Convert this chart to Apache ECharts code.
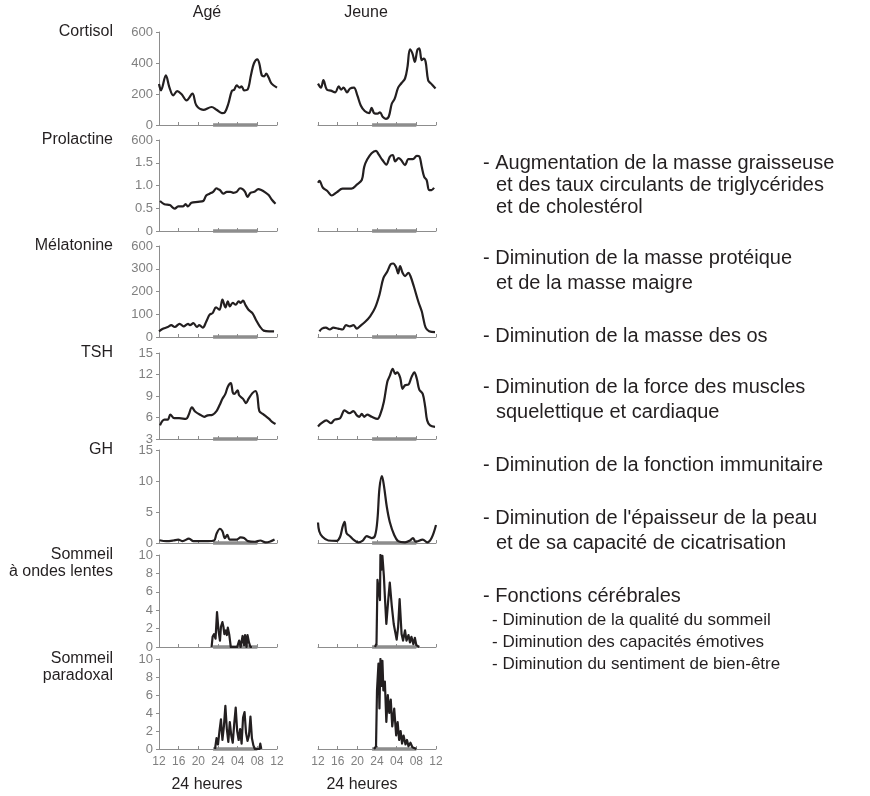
<!DOCTYPE html>
<html><head><meta charset="utf-8">
<script src="https://cdn.jsdelivr.net/npm/echarts@6.0.0/dist/echarts.min.js"></script>
<style>html,body{margin:0;padding:0;background:#fff}#c{width:870px;height:796px}</style>
</head><body><div id="c"></div>
<script>
// ---------- DATA ----------
const columns = ['Agé', 'Jeune'];
const rowLabels = [['Cortisol'], ['Prolactine'], ['Mélatonine'], ['TSH'], ['GH'], ['Sommeil', 'à ondes lentes'], ['Sommeil', 'paradoxal']];
const xTickLabels = ['12', '16', '20', '24', '04', '08', '12'];
const sleepPeriod = [11, 20]; // hours after 12:00 (23h -> 08h)

const cortisolTicks = ['0', '200', '400', '600'];
const prolactineTicks = ['0', '0.5', '1.0', '1.5', '600'];
const melatonineTicks = ['0', '100', '200', '300', '600'];
const tshTicks = ['3', '6', '9', '12', '15'];
const ghTicks = ['0', '5', '10', '15'];
const sleepTicks = ['0', '2', '4', '6', '8', '10'];

// Cortisol
const cortAgeT = [0, 0.4, 1.4, 2.1, 2.9, 3.7, 4.6, 5.6, 6.8, 7.6, 9.0, 10.7, 11.7, 12.8, 13.4, 14.1, 14.8, 15.3, 15.8, 16.4, 16.8, 17.3, 18.0, 18.7, 19.3, 20.0, 20.4, 20.9, 21.4, 21.8, 22.3, 22.9, 24];
const cortAgeV = [265, 224, 321, 245, 191, 219, 198, 159, 202, 126, 98, 116, 98, 77, 82, 137, 219, 228, 256, 241, 250, 224, 228, 321, 397, 423, 397, 321, 314, 331, 306, 267, 241];
const cortJeuneT = [0, 0.6, 1.1, 1.8, 2.6, 3.5, 4.2, 4.7, 5.2, 5.9, 6.5, 7.3, 8.0, 8.7, 9.5, 10.4, 10.9, 11.4, 12.1, 12.6, 13.2, 13.8, 14.4, 15.0, 15.6, 16.3, 17.0, 17.7, 18.2, 18.7, 19.2, 19.7, 20.2, 20.6, 21.1, 21.5, 21.9, 22.4, 23.0, 23.9];
const cortJeuneV = [267, 241, 289, 228, 222, 211, 250, 228, 241, 211, 235, 241, 191, 126, 90, 77, 111, 77, 73, 82, 51, 40, 55, 137, 170, 241, 271, 300, 375, 488, 462, 407, 483, 494, 418, 429, 407, 289, 267, 235];

// Prolactine
const prolAgeT = [0.2, 1.1, 2.2, 3.2, 3.9, 4.9, 5.4, 5.9, 6.6, 7.9, 9.0, 9.6, 10.3, 11.0, 11.7, 12.0, 12.4, 13.1, 13.8, 14.5, 15.1, 15.8, 16.5, 17.0, 17.5, 18.0, 18.6, 19.4, 20.2, 20.8, 21.6, 22.3, 23.0, 23.7];
const prolAgeV = [0.66, 0.59, 0.57, 0.49, 0.54, 0.54, 0.59, 0.54, 0.62, 0.64, 0.66, 0.78, 0.82, 0.86, 0.94, 0.92, 0.90, 0.82, 0.86, 0.86, 0.84, 0.86, 0.94, 0.92, 0.86, 0.75, 0.84, 0.86, 0.92, 0.90, 0.85, 0.79, 0.68, 0.60];
const prolJeuneT = [0, 0.3, 1.0, 1.9, 2.8, 3.8, 5.0, 6.8, 7.9, 8.9, 9.4, 10.0, 10.9, 11.8, 12.3, 13.1, 13.9, 14.6, 15.2, 15.7, 16.4, 16.9, 17.7, 18.4, 19.3, 20.1, 20.6, 21.1, 21.6, 22.1, 22.6, 23.1, 23.6];
const prolJeuneV = [1.06, 1.10, 0.95, 0.88, 0.78, 0.85, 0.93, 0.93, 1.02, 1.12, 1.41, 1.57, 1.71, 1.76, 1.69, 1.56, 1.46, 1.63, 1.67, 1.53, 1.60, 1.56, 1.45, 1.58, 1.58, 1.65, 1.64, 1.41, 1.19, 1.12, 0.90, 0.90, 0.95];

// Mélatonine
const melAgeT = [0, 0.9, 1.8, 2.5, 3.2, 4.2, 5.0, 5.9, 6.3, 7.0, 7.7, 8.2, 8.9, 9.6, 10.3, 10.9, 11.6, 12.3, 12.9, 13.5, 14.0, 14.4, 15.0, 15.6, 16.2, 16.6, 17.1, 17.6, 18.2, 19.0, 19.7, 20.5, 21.3, 22.4, 23.4];
const melAgeV = [25, 37, 44, 52, 44, 58, 47, 58, 52, 61, 44, 52, 41, 67, 98, 105, 130, 120, 164, 130, 157, 135, 150, 142, 157, 150, 160, 140, 120, 105, 76, 47, 28, 25, 25];
const melJeuneT = [0.3, 0.8, 1.6, 2.4, 3.1, 4.1, 5.0, 5.7, 6.5, 7.2, 7.9, 8.5, 9.6, 10.6, 11.6, 12.5, 13.3, 14.1, 14.8, 15.3, 15.9, 16.3, 16.7, 17.2, 17.7, 18.4, 18.8, 19.5, 20.4, 21.1, 21.4, 21.9, 22.6, 23.8];
const melJeuneV = [25, 37, 41, 33, 41, 37, 33, 52, 47, 52, 37, 47, 67, 91, 128, 186, 259, 288, 320, 323, 306, 280, 312, 282, 268, 282, 268, 222, 156, 113, 84, 41, 25, 21];

// TSH
const tshAgeT = [0.2, 1.1, 1.8, 2.3, 3.1, 4.1, 5.5, 6.0, 6.7, 7.4, 8.6, 9.2, 9.9, 10.9, 11.7, 12.3, 12.9, 13.5, 14.0, 14.6, 15.0, 15.3, 16.0, 16.3, 17.1, 17.7, 18.2, 19.0, 19.6, 20.0, 20.4, 21.1, 21.7, 22.4, 23.0, 23.7];
const tshAgeV = [4.9, 5.7, 5.7, 6.4, 5.9, 5.9, 5.8, 6.3, 7.4, 6.8, 6.3, 6.1, 6.3, 6.4, 6.9, 7.7, 8.6, 9.3, 10.3, 10.8, 9.5, 9.3, 9.8, 9.1, 8.6, 8.0, 8.6, 9.4, 9.7, 9.1, 6.9, 6.5, 6.2, 5.8, 5.4, 5.1];
const tshJeuneT = [0, 0.7, 1.7, 2.6, 3.4, 4.5, 5.4, 6.4, 7.2, 7.9, 8.4, 8.9, 9.4, 10.0, 10.9, 12.1, 12.7, 13.4, 14.1, 14.6, 15.2, 15.7, 16.1, 16.7, 17.2, 17.7, 18.4, 19.0, 19.6, 20.1, 20.6, 21.3, 21.8, 22.2, 22.8, 23.8];
const tshJeuneV = [4.75, 5.2, 5.6, 5.2, 5.7, 5.9, 7.0, 6.6, 6.9, 6.3, 6.1, 6.5, 6.1, 6.4, 6.1, 5.8, 6.5, 8.2, 11.0, 11.8, 12.8, 12.1, 12.3, 11.6, 10.0, 10.5, 10.6, 11.6, 12.3, 11.4, 9.9, 9.3, 7.5, 5.6, 4.9, 4.7];

// GH
const ghAgeT = [0.1, 1.5, 2.9, 3.9, 4.8, 6.1, 7.0, 8.3, 10.0, 11.2, 11.7, 12.4, 12.9, 13.4, 13.9, 14.4, 15.8, 16.6, 17.3, 18.1, 19.5, 20.6, 21.7, 22.5, 23.5];
const ghAgeV = [0.45, 0.3, 0.4, 0.55, 0.3, 0.7, 0.3, 0.3, 0.3, 0.4, 1.5, 2.3, 1.9, 0.8, 1.3, 0.55, 0.55, 0.9, 0.8, 0.3, 0.2, 0.4, 0.1, 0.2, 0.55];
const ghJeuneT = [0, 0.25, 0.9, 2.1, 3.8, 4.5, 5.0, 5.4, 5.8, 6.5, 7.2, 8.2, 9.1, 9.9, 10.9, 11.6, 12.1, 12.5, 13.0, 13.4, 14.0, 14.6, 15.5, 16.3, 17.7, 18.7, 19.3, 19.9, 21.3, 22.2, 23.1, 24];
const ghJeuneV = [3.3, 1.9, 1.0, 0.4, 0.35, 1.0, 2.6, 3.4, 1.6, 1.1, 0.55, 0.1, 0.4, 1.1, 0.8, 1.2, 3.9, 8.8, 10.8, 9.3, 5.8, 3.4, 1.3, 0.3, 0.1, 0.4, 0.8, 0.2, 0.55, 0.1, 0.8, 2.9];

// Sommeil à ondes lentes (recorded during the night only)
const solAgeT = [10.7, 10.9, 11.2, 11.5, 11.8, 12.1, 12.4, 12.6, 12.9, 13.1, 13.3, 13.6, 13.8, 14.0, 14.3, 14.6, 15.9, 16.3, 16.6, 17.0, 17.3, 17.5, 17.8, 18.0, 18.3, 18.6, 18.9];
const solAgeV = [0, 1.1, 1.4, 0.9, 3.8, 1.8, 0.7, 2.2, 2.7, 2.2, 1.4, 1.8, 1.3, 2.1, 1.3, 0, 0, 0.7, 0, 1.2, 0.2, 1.3, 0, 1.3, 0.5, 0, 0];
const solJeuneT = [11.6, 11.9, 12.1, 12.4, 12.6, 12.7, 12.9, 13.1, 13.4, 13.6, 13.9, 14.3, 14.6, 15.0, 15.4, 16.0, 16.3, 16.6, 17.0, 17.3, 17.7, 18.0, 18.4, 18.7, 19.0, 19.4, 19.7, 20.0, 20.6];
const solJeuneV = [0, 0.4, 7.3, 7.4, 5.1, 10, 8.4, 9.9, 7.7, 5.5, 2.5, 5.2, 7.0, 4.5, 2.5, 0.8, 2.2, 5.2, 1.4, 0.7, 1.8, 0.7, 1.3, 0.5, 1.1, 0.3, 1.0, 0.2, 0];

// Sommeil paradoxal
const parAgeT = [11.4, 11.7, 12.0, 12.3, 12.6, 12.9, 13.2, 13.5, 13.8, 14.1, 14.4, 14.7, 15.0, 15.3, 15.6, 15.9, 16.2, 16.5, 16.8, 17.1, 17.4, 17.7, 18.0, 18.3, 18.6, 18.9, 19.2, 19.5, 20.4, 20.6, 20.8];
const parAgeV = [0, 1.2, 0.5, 2.0, 3.3, 1.0, 2.5, 4.8, 2.2, 0.8, 3.0, 1.5, 0.7, 2.8, 4.6, 2.0, 1.0, 2.2, 0.6, 3.5, 4.1, 1.8, 0.9, 1.5, 3.6, 1.2, 0.4, 0, 0, 0.6, 0];
const parJeuneT = [11.4, 11.8, 12.0, 12.3, 12.5, 12.7, 12.9, 13.1, 13.3, 13.6, 13.9, 14.2, 14.5, 14.8, 15.1, 15.5, 15.9, 16.2, 16.5, 16.8, 17.1, 17.4, 17.8, 18.1, 18.4, 18.8, 19.2, 19.6, 20.0];
const parJeuneV = [0, 0.3, 6.5, 9.5, 4.5, 10, 7.0, 9.8, 6.5, 7.5, 3.0, 6.0, 4.0, 5.5, 2.5, 4.5, 1.5, 3.0, 1.0, 2.0, 0.6, 1.5, 0.5, 1.0, 0.3, 0.7, 0.2, 0.4, 0];

// Effects text
const effects = [
  {main: '- Augmentation de la masse graisseuse', more: ['et des taux circulants de triglycérides', 'et de cholestérol']},
  {main: '- Diminution de la masse protéique', more: ['et de la masse maigre']},
  {main: '- Diminution de la masse des os', more: []},
  {main: '- Diminution de la force des muscles', more: ['squelettique et cardiaque']},
  {main: '- Diminution de la fonction immunitaire', more: []},
  {main: "- Diminution de l'épaisseur de la peau", more: ['et de sa capacité de cicatrisation']},
  {main: '- Fonctions cérébrales', more: []}
];
const cerebral = ['- Diminution de la qualité du sommeil', '- Diminution des capacités émotives', '- Diminution du sentiment de bien-être'];

// ---------- LAYOUT ----------
const rowGeom = [[32, 93], [140, 91], [246, 91], [353, 86], [450, 93], [555, 92], [659, 90]];
const colLeft = [159, 318];
const colWidth = 118;
const axisCfg = [
  {min: 0, max: 600, interval: 200, ticks: cortisolTicks},
  {min: 0, max: 2, interval: 0.5, ticks: prolactineTicks},
  {min: 0, max: 400, interval: 100, ticks: melatonineTicks},
  {min: 3, max: 15, interval: 3, ticks: tshTicks},
  {min: 0, max: 15, interval: 5, ticks: ghTicks},
  {min: 0, max: 10, interval: 2, ticks: sleepTicks},
  {min: 0, max: 10, interval: 2, ticks: sleepTicks}
];
const seriesData = [
  [[cortAgeT, cortAgeV], [cortJeuneT, cortJeuneV]],
  [[prolAgeT, prolAgeV], [prolJeuneT, prolJeuneV]],
  [[melAgeT, melAgeV], [melJeuneT, melJeuneV]],
  [[tshAgeT, tshAgeV], [tshJeuneT, tshJeuneV]],
  [[ghAgeT, ghAgeV], [ghJeuneT, ghJeuneV]],
  [[solAgeT, solAgeV], [solJeuneT, solJeuneV]],
  [[parAgeT, parAgeV], [parJeuneT, parJeuneV]]
];

const GRAY = '#8d8d8d';
const LBL = '#7f7f7f';
const INK = '#231f20';
const FONT = '"Liberation Sans", Arial, Helvetica, sans-serif';

const grid = [], xAxis = [], yAxis = [], series = [], graphic = [];
let idx = 0;
rowGeom.forEach((g, r) => {
  const cfg = axisCfg[r];
  for (let c = 0; c < 2; c++) {
    grid.push({left: colLeft[c], top: g[0], width: colWidth, height: g[1], containLabel: false});
    const isBottom = r === rowGeom.length - 1;
    xAxis.push({
      type: 'value', gridIndex: idx, min: 0, max: 24, interval: 4,
      axisLine: {show: true, onZero: false, lineStyle: {color: GRAY, width: 1}},
      axisTick: {show: true, inside: true, length: 3, lineStyle: {color: GRAY}},
      splitLine: {show: false},
      axisLabel: {show: isBottom, color: LBL, fontFamily: FONT, fontSize: 12, margin: 7,
        formatter: v => xTickLabels[Math.round(v / 4)]}
    });
    yAxis.push({
      type: 'value', gridIndex: idx, min: cfg.min, max: cfg.max, interval: cfg.interval,
      offset: 3,
      axisLine: {show: c === 0, lineStyle: {color: GRAY, width: 1}},
      axisTick: {show: c === 0, length: 3, lineStyle: {color: GRAY}},
      splitLine: {show: false},
      axisLabel: {show: c === 0, color: LBL, fontFamily: FONT, fontSize: 13, margin: 3,
        formatter: v => cfg.ticks[Math.round((v - cfg.min) / cfg.interval)]}
    });
    // sleep bar on the time axis
    series.push({
      type: 'line', xAxisIndex: idx, yAxisIndex: idx, symbol: 'none', silent: true, clip: false,
      lineStyle: {color: GRAY, width: 3.5},
      data: [[sleepPeriod[0], cfg.min], [sleepPeriod[1], cfg.min]], z: 3
    });
    const [tt, vv] = seriesData[r][c];
    series.push({
      type: 'line', xAxisIndex: idx, yAxisIndex: idx, symbol: 'none', silent: true,
      smooth: r >= 5 ? false : 0.35,
      lineStyle: {color: INK, width: 2.2, join: 'round'},
      data: tt.map((t, i) => [t, vv[i]]), z: 4
    });
    idx++;
  }
  // row labels
  const lines = rowLabels[r];
  lines.forEach((txt, k) => {
    graphic.push({type: 'text', x: 113, y: g[0] + k * 17,
      style: {text: txt, font: '16px ' + FONT, fill: INK, align: 'right', textAlign: 'right', verticalAlign: 'middle', textVerticalAlign: 'middle'}});
  });
});

// column titles and bottom captions
const titleX = [207, 366];
const captionX = [207, 362];
columns.forEach((t, c) => {
  graphic.push({type: 'text', x: titleX[c], y: 13,
    style: {text: t, font: '16px ' + FONT, fill: INK, align: 'center', textAlign: 'center', verticalAlign: 'middle', textVerticalAlign: 'middle'}});
  graphic.push({type: 'text', x: captionX[c], y: 785,
    style: {text: '24 heures', font: '16px ' + FONT, fill: INK, align: 'center', textAlign: 'center', verticalAlign: 'middle', textVerticalAlign: 'middle'}});
});

// effects text
const mainY = [163, 258, 336, 387, 465, 518, 596];
effects.forEach((e, i) => {
  graphic.push({type: 'text', x: 483, y: mainY[i],
    style: {text: e.main, font: '20px ' + FONT, fill: INK, align: 'left', textAlign: 'left', verticalAlign: 'middle', textVerticalAlign: 'middle'}});
  const gap = i === 0 ? 22 : 25;
  e.more.forEach((m, k) => {
    graphic.push({type: 'text', x: 496, y: mainY[i] + gap * (k + 1),
      style: {text: m, font: '20px ' + FONT, fill: INK, align: 'left', textAlign: 'left', verticalAlign: 'middle', textVerticalAlign: 'middle'}});
  });
});
cerebral.forEach((t, k) => {
  graphic.push({type: 'text', x: 492, y: 620 + k * 22,
    style: {text: t, font: '17px ' + FONT, fill: INK, align: 'left', textAlign: 'left', verticalAlign: 'middle', textVerticalAlign: 'middle'}});
});

const chart = echarts.init(document.getElementById('c'), null, {renderer: 'canvas'});
chart.setOption({
  animation: false,
  backgroundColor: '#fff',
  textStyle: {fontFamily: FONT},
  grid, xAxis, yAxis, series, graphic
});
</script>
</body></html>
